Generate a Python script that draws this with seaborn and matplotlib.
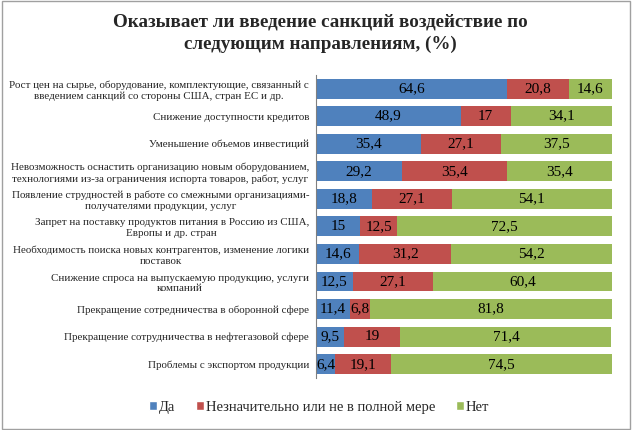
import matplotlib
matplotlib.use('Agg')
import matplotlib.pyplot as plt
import seaborn as sns
import pandas as pd
import numpy as np
from matplotlib.patches import Rectangle, Patch

# Data
categories = [
    'Рост цен на сырье, оборудование, комплектующие, связанный с\nвведением санкций со стороны США, стран ЕС и др.',
    'Снижение доступности кредитов',
    'Уменьшение объемов инвестиций',
    'Невозможность оснастить организацию новым оборудованием,\nтехнологиями из-за ограничения испорта товаров, работ, услуг',
    'Появление струдностей в работе со смежными организациями-\nполучателями продукции, услуг',
    'Запрет на поставку продуктов питания в Россию из США,\nЕвропы и др. стран',
    'Необходимость поиска новых контрагентов, изменение логики\nпоставок',
    'Снижение спроса на выпускаемую продукцию, услуги\nкомпаний',
    'Прекращение сотредничества в оборонной сфере',
    'Прекращение сотрудничества в нефтегазовой сфере',
    'Проблемы с экспортом продукции',
]
yes = [64.6, 48.9, 35.4, 29.2, 18.8, 15, 14.6, 12.5, 11.4, 9.5, 6.4]
partly = [20.8, 17, 27.1, 35.4, 27.1, 12.5, 31.2, 27.1, 6.8, 19, 19.1]
no = [14.6, 34.1, 37.5, 35.4, 54.1, 72.5, 54.2, 60.4, 81.8, 71.4, 74.5]
series_names = ['Да', 'Незначительно или не в полной мере', 'Нет']
colors = ['#4F81BD', '#C0504D', '#9BBB59']

df = pd.DataFrame({'cat': categories, 'yes': yes, 'partly': partly, 'no': no})
df['c1'] = df['yes']
df['c2'] = df['yes'] + df['partly']
df['c3'] = df['c2'] + df['no']

sns.set_style('white')
plt.rcParams['font.family'] = ['Liberation Serif', 'DejaVu Serif']

fig = plt.figure(figsize=(6.32, 4.3), dpi=100)
ax = fig.add_axes([0.5, 0.121, 0.468, 0.705])

# stacked look by overlaying cumulative totals
for col, c in zip(['c3', 'c2', 'c1'], colors[::-1]):
    sns.barplot(data=df, x=col, y='cat', color=c, orient='h', width=0.72,
                saturation=1, ax=ax, edgecolor='none')

# value labels
for i, row in df.iterrows():
    starts = [0, row['yes'], row['yes'] + row['partly']]
    for s, v in zip(starts, [row['yes'], row['partly'], row['no']]):
        txt = ('%g' % v).replace('.', ',')
        ax.text(s + v / 2, i, txt, ha='center', va='center', fontsize=11, color='black')

ax.set_xlim(0, 100)
ax.set_ylim(len(categories) - 0.5, -0.5)
ax.set_xlabel('')
ax.set_ylabel('')
ax.set_xticks([])
ax.tick_params(axis='y', which='major', length=0, labelsize=7.9, pad=5)
for lbl in ax.get_yticklabels():
    lbl.set_multialignment('center')
    lbl.set_linespacing(1.25)
ax.set_yticks(np.arange(-0.5, len(categories)), minor=True)
ax.tick_params(axis='y', which='minor', length=4, direction='out', color='#808080', width=0.8)
for side in ['top', 'right', 'bottom']:
    ax.spines[side].set_visible(False)
ax.spines['left'].set_color('#808080')
ax.spines['left'].set_linewidth(0.8)

fig.text(0.507, 0.923, 'Оказывает ли введение санкций воздействие по\nследующим направлениям, (%)',
         ha='center', va='center', fontsize=13.7, fontweight='bold', linespacing=1.35)

handles = [Patch(facecolor=c, label=n) for c, n in zip(colors, series_names)]
fig.legend(handles=handles, loc='center', bbox_to_anchor=(0.505, 0.053), ncol=3, frameon=False,
           fontsize=10.5, handlelength=0.55, handleheight=0.55, handletextpad=0.15, columnspacing=1.4)

fig.patches.append(Rectangle((0.003, 0.003), 0.994, 0.994, transform=fig.transFigure,
                             fill=False, edgecolor='#A0A0A0', linewidth=1))

fig.savefig('out.png', dpi=100)
